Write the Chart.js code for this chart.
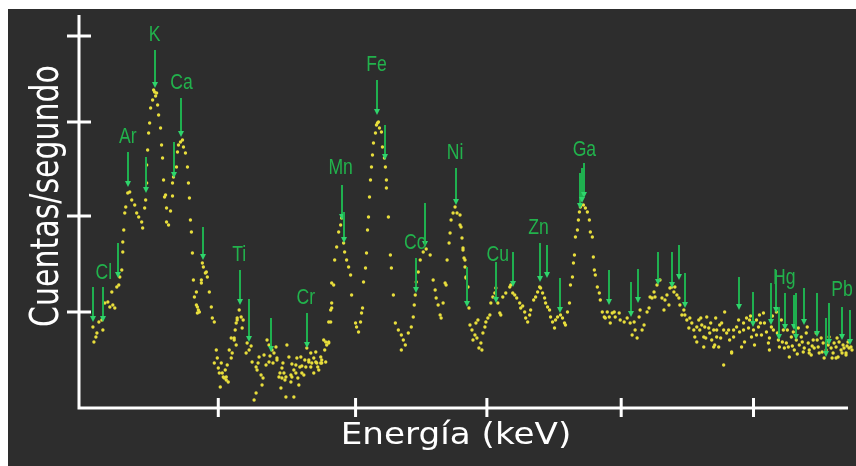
<!DOCTYPE html>
<html>
<head>
<meta charset="utf-8">
<script src="https://cdn.jsdelivr.net/npm/chart.js@4"></script>
<style>
  html, body { margin: 0; padding: 0; background: #ffffff; }
  #marco { position: absolute; left: 8px; top: 9px; width: 848px; height: 457px; background: #2d2d2d; }
</style>
</head>
<body>
<div id="marco"><canvas id="espectro" width="848" height="457"></canvas></div>
<script>
// espectro: [canal, cuentas/s]
const espectro = [
  [93,81],[94,66],[96,71],[97,75],[99,86],[102,88],[103,78],[105,105],[108,106],[110,101],[112,116],[113,103],[115,100],
  [117,121],[119,123],[120,131],[122,138],[123,156],[123,166],[124,178],[125,195],[126,201],[128,215],[130,216],[132,208],
  [135,203],[137,195],[139,191],[142,186],[143,180],[145,200],[146,208],[147,225],[147,243],[148,258],[149,275],[150,285],
  [151,300],[153,308],[154,318],[155,316],[156,312],[157,315],[158,303],[159,293],[161,280],[162,263],[163,250],[164,228],
  [165,211],[166,213],[167,200],[167,186],[169,183],[171,197],[173,212],[173,225],[174,231],[177,241],[178,256],[179,263],
  [181,266],[183,268],[184,261],[186,255],[188,241],[189,225],[190,210],[191,188],[192,176],[193,155],[194,128],[195,111],
  [197,103],[198,95],[199,98],[202,125],[204,141],[206,135],
  [197,116],[198,101],[200,96],[202,128],[203,145],[207,136],[208,131],[210,116],[212,101],[213,90],[215,86],[215,45],
  [217,58],[218,50],[219,40],[220,35],[221,21],[222,45],[223,35],[224,31],[225,30],[226,38],[227,28],[227,31],[228,43],
  [229,26],[230,58],[232,50],[232,70],[233,55],[235,68],[235,70],[236,78],[237,63],[237,85],[238,90],[238,88],[240,98],
  [242,91],[243,80],[244,88],[247,55],[248,65],[250,58],[252,62],[253,46],[255,8],[257,15],[257,41],[258,38],[259,45],
  [260,51],[262,33],[263,23],[264,30],[265,53],[267,43],[268,68],[270,63],[270,46],[271,52],[273,58],[274,45],[275,55],
  [277,61],[278,48],[278,50],[280,31],[281,35],[282,20],[283,40],[283,30],[284,45],[285,35],[286,28],[287,31],[287,11],
  [288,63],[290,51],[292,33],[292,26],[293,44],[293,31],[295,38],[295,11],[297,43],[297,35],[298,50],[299,30],[300,23],
  [301,41],[302,51],[303,42],[303,35],[305,33],[306,48],[307,41],[308,60],[310,46],[310,48],[312,55],[312,41],[313,45],
  [315,50],[315,35],[317,56],[317,46],[318,45],[319,41],[320,38],[322,51],[322,45],[323,45],[325,68],[326,58],[327,46],
  [328,63],[330,66],[332,98],[332,86],[333,125],
  [323,48],[327,66],[330,65],[330,86],[333,105],[333,100],[335,123],[336,148],[338,161],[340,176],[342,183],[343,190],
  [345,165],[346,156],[348,148],[350,141],[352,133],[353,113],[357,85],[358,81],[360,76],[362,86],[363,95],[364,100],
  [365,126],[367,140],[368,155],[369,178],[370,191],[371,211],[372,228],[373,241],[374,253],[375,265],[377,275],[378,283],
  [379,285],[380,286],[381,280],[383,276],[384,261],[386,250],[387,241],[388,228],[388,220],[390,191],[392,153],[393,140],
  [395,113],[397,85],[400,78],[403,73],[403,58],[405,68],[407,63],[410,75],[413,81],[415,91],[416,103],[417,113],
  [418,126],[420,136],[422,148],[425,156],[428,159],[432,153],[435,128],[437,118],[438,110],[440,103],[442,93],[443,90],
  [445,105],[447,125],[448,123],[449,148],[451,165],[452,175],[453,188],[455,195],[457,201],[459,195],[462,183],[464,170],
  [465,158],[467,148],[468,130],
  [462,193],[463,181],[465,160],[466,150],[467,141],[468,131],[470,121],[471,100],[472,83],[474,78],[475,68],[477,73],
  [478,85],[479,70],[480,88],[481,60],[483,65],[484,58],[485,75],[487,81],[488,86],[490,90],[492,93],[493,105],[495,111],
  [497,115],[498,120],[500,105],[502,95],[503,93],[505,111],[508,115],[512,121],[513,123],[515,115],[517,113],[519,110],
  [522,105],[523,100],[525,102],[527,96],[528,90],[530,86],[532,93],[533,98],[536,108],[538,111],[540,116],[542,121],
  [543,120],[545,115],[547,110],[548,105],[550,101],[552,98],[553,91],[555,86],[557,80],[558,88],[560,91],[563,93],
  [565,90],[567,85],[568,83],[570,96],[572,105],[573,123],[575,131],[576,145],[577,153],[578,171],[580,178],[581,188],
  [582,196],[583,201],[586,203],[588,200],[590,196],[592,188],[593,176],[595,171],[596,151],[597,138],[598,133],[600,121],
  [602,115],[603,108],[605,96],[607,91],[608,90],[610,96],[612,91],[613,85],[615,95],[617,96],[618,91],
  [622,95],[623,88],[627,86],[630,90],[633,85],[635,73],[637,86],[638,78],[640,70],[642,91],[643,98],[645,78],[647,83],
  [650,96],[652,100],[653,111],[655,110],[657,116],[658,111],[660,123],[663,128],[665,110],[667,98],[668,108],[670,113],
  [672,103],[673,120],[675,121],[677,116],[678,121],[680,113],[682,110],[683,103],[685,93],[687,98],[688,93],[690,88],
  [692,80],[693,90],[695,85],[697,78],[698,71],[700,81],[700,66],[702,88],[703,78],[704,90],[705,83],[707,71],[707,61],
  [708,81],[709,70],[710,91],[712,80],[713,75],[714,85],[715,68],[717,78],[717,61],[718,63],[719,90],[720,71],[720,78],
  [722,61],[723,83],[724,70],[725,85],[727,78],[727,43],[728,96],[730,75],[733,68],[735,56],[737,78],
  [732,78],[735,55],[737,71],[740,81],[742,88],[743,76],[745,61],[747,85],[747,78],[748,66],[750,90],[752,80],[753,88],
  [754,92],[755,71],[757,78],[758,63],[760,88],[760,73],[762,81],[763,93],[764,85],[765,73],[767,95],[768,85],[770,76],
  [772,65],[773,70],[773,58],[775,81],[776,92],[777,78],[780,96],[781,75],[782,68],[783,61],[785,88],[786,66],[787,78],
  [788,60],[790,65],[791,78],[792,61],[793,51],[795,71],[796,62],[797,76],[798,58],[800,68],[801,54],[802,80],[803,63],
  [805,71],[806,66],[807,56],[808,60],[810,75],[811,81],[812,65],[813,58],[813,55],[815,53],[816,62],[817,68],[818,60],
  [820,75],[821,68],[822,61],[823,55],[825,70],[826,56],[827,65],[828,50],[830,58],[831,67],[832,63],[833,71],[835,60],
  [836,50],[837,55],[838,65],[840,61],[840,50],[841,70],[842,51],[843,66],[845,58],[846,55],[847,63],[848,60],[850,55],
  [850,53],[851,62],[852,66],[853,60],[855,61],[856,58]
];

// lineas de emision: [canal, cuentas arriba, cuentas en la punta]
const lineas = [
  [93,121,86],[103,121,86],[118,165,130],[128,256,221],[146,251,215],[155,358,320],[174,266,230],[182,310,271],
  [204,181,148],[241,138,103],[250,109,66],[272,90,56],[308,95,60],[343,223,188],[345,196,165],[379,328,293],
  [387,283,248],[418,150,115],[427,205,161],[458,240,203],[469,141,101],[498,146,105],[515,156,121],[542,165,126],
  [549,163,130],[562,130,95],[583,235,199],[585,240,205],[587,245,210],[612,138,103],[634,126,91],[641,139,105],
  [661,156,123],[675,156,120],[682,163,128],[688,135,100],[742,131,98],[756,116,81],[775,125,83],[780,138,95],
  [783,101,68],[789,115,78],[798,113,78],[800,115,68],[808,120,83],[821,115,71],[830,90,51],[833,105,63],
  [846,101,68],[854,98,63]
];

const elementos = ['K', 'Ca', 'Ar', 'Cl', 'Ti', 'Cr', 'Mn', 'Fe', 'Co', 'Ni', 'Cu', 'Zn', 'Ga', 'Hg', 'Pb'];
const elemCanal = [155, 182, 128, 104, 240, 307, 342, 378, 417, 457, 500, 541, 587, 788, 846];
const elemCuentas = [373, 325, 271, 135, 153, 110, 240, 343, 165, 255, 153, 180, 258, 130, 118];

const ticksX = [219, 357, 489, 624, 757];
const ticksY = [96, 192, 286, 372];

const tituloX = 'Energía (keV)';
const tituloY = 'Cuentas/segundo';

const ejes = {
    id: 'ejes',
    beforeDatasetsDraw(chart) {
        const ctx = chart.ctx;
        const xs = chart.scales.x, ys = chart.scales.y;
        const x0 = xs.getPixelForValue(79);
        const y0 = ys.getPixelForValue(0);
        ctx.save();
        ctx.strokeStyle = '#ffffff';
        ctx.lineWidth = 3;
        ctx.beginPath();
        ctx.moveTo(x0, ys.getPixelForValue(393));
        ctx.lineTo(x0, y0);
        ctx.lineTo(xs.getPixelForValue(852), y0);
        ticksY.forEach(v => {
            const p = ys.getPixelForValue(v);
            ctx.moveTo(x0 - 12, p);
            ctx.lineTo(x0 + 12, p);
        });
        ticksX.forEach(v => {
            const p = xs.getPixelForValue(v);
            ctx.moveTo(p, y0 - 10);
            ctx.lineTo(p, y0 + 9);
        });
        ctx.stroke();

        ctx.fillStyle = '#ffffff';
        ctx.font = '30px "DejaVu Sans", sans-serif';
        ctx.textAlign = 'center';
        ctx.textBaseline = 'alphabetic';
        ctx.save();
        ctx.translate(448, 435);
        ctx.scale(1.14, 1);
        ctx.fillText(tituloX, 0, 0);
        ctx.restore();
        ctx.save();
        ctx.translate(50, 187);
        ctx.scale(1.3, 1);
        ctx.rotate(-Math.PI / 2);
        ctx.fillText(tituloY, 0, 0);
        ctx.restore();
        ctx.restore();
    }
};

const flechas = {
    id: 'flechas',
    afterDatasetsDraw(chart) {
        const ctx = chart.ctx;
        const xs = chart.scales.x, ys = chart.scales.y;
        ctx.save();
        lineas.forEach(l => {
            const x = Math.round(xs.getPixelForValue(l[0]));
            const yTop = ys.getPixelForValue(l[1]);
            const yTip = ys.getPixelForValue(l[2]);
            ctx.strokeStyle = '#1fb04f';
            ctx.lineWidth = 2;
            ctx.beginPath();
            ctx.moveTo(x, yTop);
            ctx.lineTo(x, yTip - 4);
            ctx.stroke();
            ctx.fillStyle = '#2fd46c';
            ctx.beginPath();
            ctx.moveTo(x - 3, yTip - 6);
            ctx.lineTo(x + 3, yTip - 6);
            ctx.lineTo(x, yTip);
            ctx.closePath();
            ctx.fill();
        });
        ctx.fillStyle = '#22b24c';
        ctx.font = '22px "Liberation Sans", Arial, sans-serif';
        ctx.textAlign = 'center';
        ctx.textBaseline = 'middle';
        elementos.forEach((e, i) => {
            ctx.save();
            ctx.translate(xs.getPixelForValue(elemCanal[i]), ys.getPixelForValue(elemCuentas[i]));
            ctx.scale(0.8, 1);
            ctx.fillText(e, 0, 0);
            ctx.restore();
        });
        ctx.restore();
    }
};

new Chart(document.getElementById('espectro').getContext('2d'), {
    type: 'scatter',
    data: {
        datasets: [{
            data: espectro.map(p => ({ x: p[0], y: p[1] })),
            pointRadius: 1.7,
            pointBackgroundColor: '#e8de3c',
            pointBorderWidth: 0,
            clip: false
        }]
    },
    options: {
        responsive: false,
        animation: false,
        layout: { padding: { left: 71, top: 6, right: 0, bottom: 58 } },
        plugins: {
            legend: { display: false },
            tooltip: { enabled: false }
        },
        scales: {
            x: { type: 'linear', min: 79, max: 856, display: false },
            y: { min: 0, max: 393, display: false }
        }
    },
    plugins: [ejes, flechas]
});
</script>
</body>
</html>
